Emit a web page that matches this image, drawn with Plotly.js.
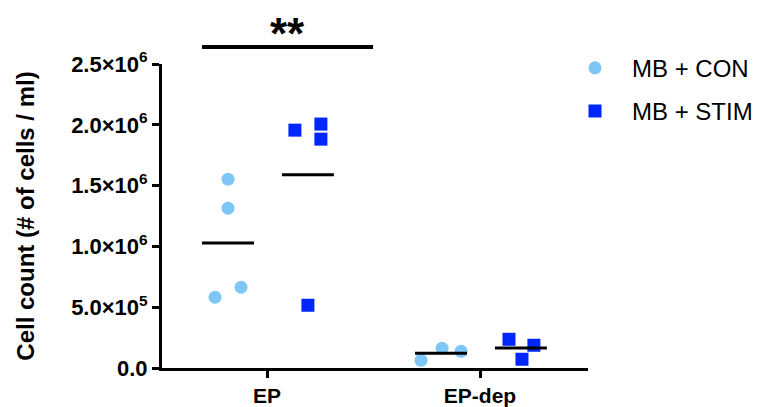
<!DOCTYPE html>
<html>
<head>
<meta charset="utf-8">
<script src="https://cdn.plot.ly/plotly-3.0.1.min.js"></script>
<style>html,body{margin:0;padding:0;background:#fff;}#chart{width:761px;height:407px;}</style>
</head>
<body>
<div id="chart"></div>
<script>
// ---- data ----
const categories = ["EP", "EP-dep"];
const seriesNames = ["MB + CON", "MB + STIM"];
const conEP = [1.553e6, 1.314e6, 0.664e6, 0.582e6];
const conEPdep = [0.063e6, 0.162e6, 0.137e6];
const stimEP = [1.956e6, 2.006e6, 1.882e6, 0.516e6];
const stimEPdep = [0.236e6, 0.187e6, 0.072e6];
const yTickVals = [0, 5e5, 1e6, 1.5e6, 2e6, 2.5e6];
const yTickText = ["0.0", "5.0×10<sup>5</sup>", "1.0×10<sup>6</sup>", "1.5×10<sup>6</sup>", "2.0×10<sup>6</sup>", "2.5×10<sup>6</sup>"];
const significance = "**";

// ---- layout constants (positions / styles) ----
const groupOffset = [-0.183, 0.192];
const jitterConEP = [0, 0, 0.061, -0.061];
const jitterConEPdep = [-0.094, 0.005, 0.094];
const jitterStimEP = [-0.061, 0.061, 0.061, 0];
const jitterStimEPdep = [-0.056, 0.061, 0.005];
const meanHalfWidth = 0.122;
const colors = ["#7DC6F6", "#0026FF"];
const symbols = ["circle", "square"];
const FONT = "Arial, 'Liberation Sans', Helvetica, sans-serif";

const mean = a => a.reduce((s, v) => s + v, 0) / a.length;

const groups = [
  [conEP, conEPdep, jitterConEP, jitterConEPdep],
  [stimEP, stimEPdep, jitterStimEP, jitterStimEPdep]
];

const traces = [];
groups.forEach((g, si) => {
  const xs = [], ys = [];
  [0, 1].forEach(ci => {
    g[ci].forEach((v, i) => { xs.push(ci + groupOffset[si] + g[ci + 2][i]); ys.push(v); });
  });
  traces.push({
    type: "scatter", mode: "markers", x: xs, y: ys, name: seriesNames[si],
    legendgroup: "g" + si, cliponaxis: false,
    marker: {color: colors[si], symbol: symbols[si], size: 13, line: {width: 0}},
    hoverinfo: "skip"
  });
});
// mean lines
groups.forEach((g, si) => {
  [0, 1].forEach(ci => {
    const c = ci + groupOffset[si];
    const m = mean(g[ci]);
    traces.push({
      type: "scatter", mode: "lines", x: [c - meanHalfWidth, c + meanHalfWidth], y: [m, m],
      line: {color: "#000", width: 3}, showlegend: false, cliponaxis: false, hoverinfo: "skip"
    });
  });
});

const layout = {
  width: 761, height: 407,
  margin: {l: 162, r: 173, t: 64, b: 39, pad: 0, autoexpand: false},
  paper_bgcolor: "#fff", plot_bgcolor: "#fff",
  showlegend: true,
  legend: {
    x: 0.9296, xanchor: "left", y: 1.06, yanchor: "top",
    font: {family: FONT, size: 24, color: "#000"},
    traceorder: "grouped", tracegroupgap: 9, itemwidth: 64,
    bgcolor: "rgba(0,0,0,0)"
  },
  xaxis: {
    range: [-0.493, 1.507], tickvals: [0, 1], ticktext: categories,
    showline: true, linecolor: "#000", linewidth: 3,
    ticks: "outside", ticklen: 7, tickwidth: 3, tickcolor: "#000",
    showgrid: false, zeroline: false,
    tickfont: {family: FONT, size: 21, color: "#000", weight: "bold"}
  },
  yaxis: {
    range: [0, 2.5e6], tickvals: yTickVals, ticktext: yTickText,
    showline: true, linecolor: "#000", linewidth: 3,
    ticks: "outside", ticklen: 7, tickwidth: 3, tickcolor: "#000",
    showgrid: false, zeroline: false,
    tickfont: {family: FONT, size: 22, color: "#000", weight: "bold"},
    title: {text: "Cell count (# of cells / ml)", font: {family: FONT, size: 24, color: "#000", weight: "bold"}, standoff: 30}
  },
  shapes: [{
    type: "line", xref: "x", yref: "paper",
    x0: -0.305, x1: 0.498, y0: 1.056, y1: 1.056,
    line: {color: "#000", width: 4}
  }],
  annotations: [{
    xref: "x", yref: "paper", x: 0.094, y: 1.10, text: significance, showarrow: false,
    font: {family: FONT, size: 44, color: "#000", weight: "bold"}, yanchor: "middle"
  }]
};

Plotly.newPlot("chart", traces, layout, {displayModeBar: false, staticPlot: true});
</script>
</body>
</html>
